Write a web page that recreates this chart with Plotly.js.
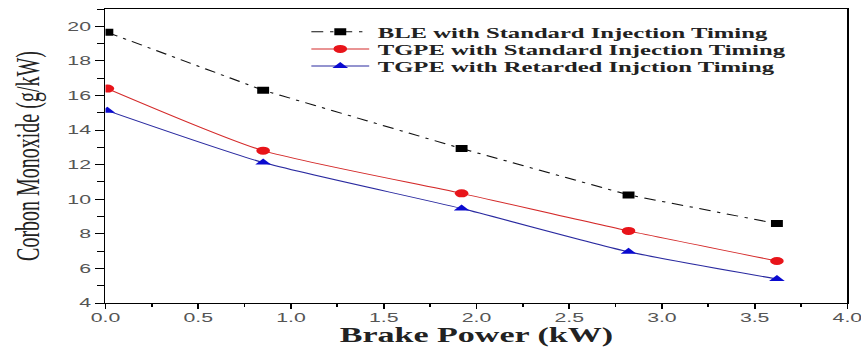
<!DOCTYPE html>
<html>
<head>
<meta charset="utf-8">
<script src="https://cdn.plot.ly/plotly-3.0.1.min.js"></script>
<style>
html,body{margin:0;padding:0;background:#fff;overflow:hidden;}
#chart{width:506px;height:347px;transform:scaleX(1.7016);transform-origin:0 0;}
</style>
</head>
<body>
<div id="chart"></div>
<script>
// Data
const brakePower = [0.01, 0.85, 1.92, 2.82, 3.62];
const bleStandard = [19.65, 16.3, 12.93, 10.25, 8.59];
const tgpeStandard = [16.4, 12.81, 10.34, 8.17, 6.43];
const tgpeRetarded = [15.12, 12.12, 9.46, 6.96, 5.39];
const seriesNames = [
  'BLE with Standard Injection Timing',
  'TGPE with Standard Injection Timing',
  'TGPE with Retarded Injction Timing'
];

const traces = [
  {x: brakePower, y: bleStandard, name: seriesNames[0], type: 'scatter', mode: 'lines+markers',
   legend: 'legend',
   line: {color: '#111', width: 1, dash: '7px,4px,2px,4px'},
   marker: {symbol: 'square', size: 7, color: '#000'}},
  {x: brakePower, y: tgpeStandard, name: seriesNames[1], type: 'scatter', mode: 'lines+markers',
   legend: 'legend2',
   line: {color: '#d42a2a', width: 1, shape: 'spline', smoothing: 0.6},
   marker: {symbol: 'circle', size: 8, color: '#e8141a'}},
  {x: brakePower, y: tgpeRetarded, name: seriesNames[2], type: 'scatter', mode: 'lines+markers',
   legend: 'legend3',
   line: {color: '#2a2aa0', width: 1, shape: 'spline', smoothing: 0.6},
   marker: {symbol: 'triangle-up', size: 8, color: '#0a0ad0'}}
];

const legendFont = {family: 'Liberation Serif', size: 14.5, color: '#222', weight: 'bold'};
function legendAt(y) {
  return {x: 0.266, y: y, xanchor: 'left', yanchor: 'middle', bgcolor: 'rgba(0,0,0,0)',
          itemwidth: 34, font: legendFont};
}

const axisTickFont = {family: 'Liberation Sans', size: 12.5, color: '#555'};

const layout = {
  width: 506, height: 347,
  margin: {l: 62, r: 8, t: 9, b: 44},
  paper_bgcolor: '#fff', plot_bgcolor: '#fff',
  showlegend: true,
  legend: legendAt(0.922),
  legend2: legendAt(0.864),
  legend3: legendAt(0.806),
  xaxis: {
    range: [0, 4], dtick: 0.5, tick0: 0, tickformat: '.1f',
    showgrid: false, zeroline: false,
    showline: true, linecolor: '#000', linewidth: 1, mirror: true,
    ticks: 'outside', ticklen: 5, tickcolor: '#000', tickwidth: 1,
    ticklabeloverflow: 'allow', ticklabelstandoff: -2,
    minor: {dtick: 0.25, ticks: 'outside', ticklen: 3, tickcolor: '#000', showgrid: false},
    tickfont: axisTickFont,
    title: {text: 'Brake Power (kW)', standoff: 7,
            font: {family: 'Liberation Serif', size: 20, color: '#222', weight: 'bold'}}
  },
  yaxis: {
    range: [4, 21], dtick: 2, tick0: 4,
    showgrid: false, zeroline: false,
    showline: true, linecolor: '#000', linewidth: 1, mirror: true,
    ticks: 'outside', ticklen: 5, tickcolor: '#000', tickwidth: 1,
    minor: {dtick: 1, ticks: 'outside', ticklen: 4, tickcolor: '#000', showgrid: false},
    tickfont: axisTickFont,
    title: {text: 'Corbon Monoxide (g/kW)', standoff: 10,
            font: {family: 'Liberation Serif', size: 20, color: '#222'}}
  }
};

Plotly.newPlot('chart', traces, layout, {displayModeBar: false, staticPlot: true});
</script>
</body>
</html>
